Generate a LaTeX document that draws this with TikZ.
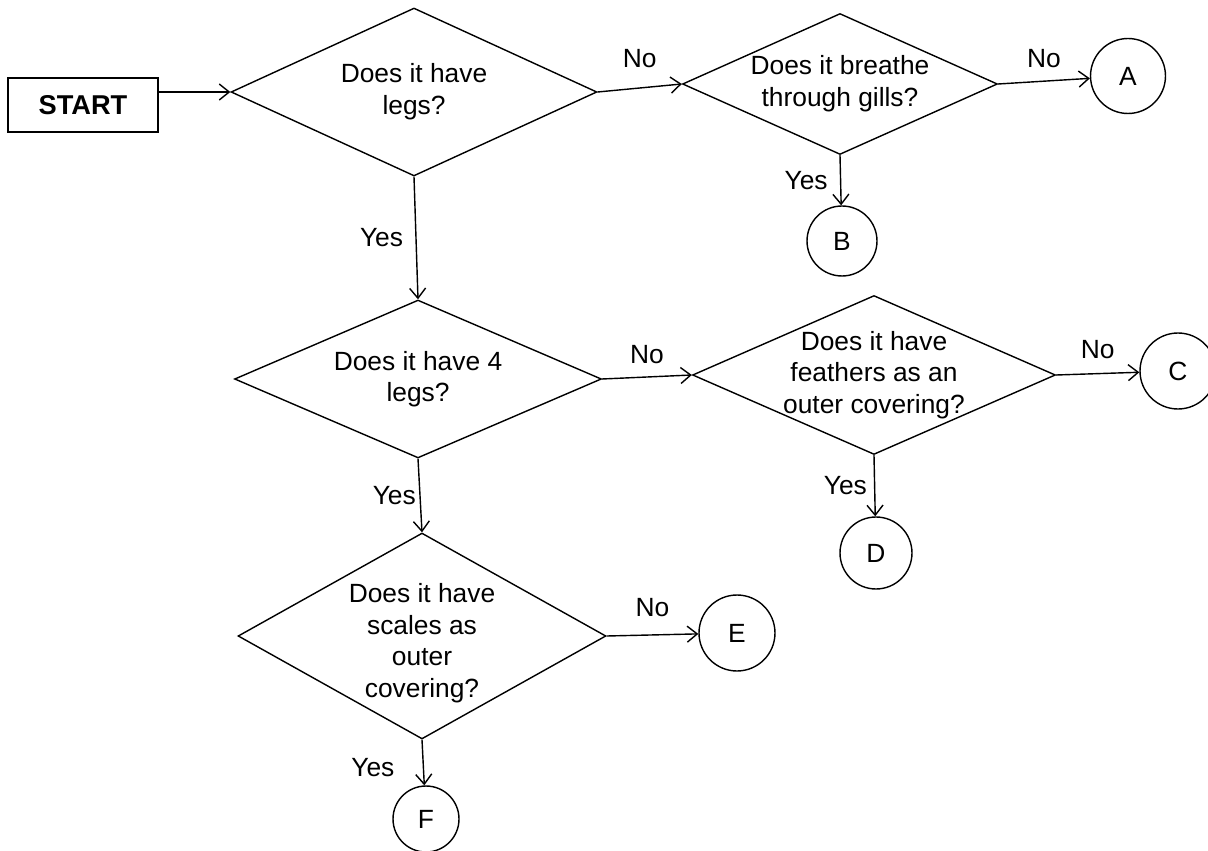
\documentclass[tikz,border=0pt]{standalone}
\usepackage{fontspec}
\setmainfont{Liberation Sans}
\usetikzlibrary{arrows.meta,shapes.geometric,positioning}

\begin{document}
\begin{tikzpicture}[x=0.02cm,y=-0.02cm,
q/.style={draw,diamond,inner sep=0pt,line width=0.8pt},
qtext/.style={align=center,inner sep=0pt,font=\fontsize{15}{18}\selectfont},
ans/.style={draw,circle,line width=0.8pt,minimum size=1.44cm,inner sep=0pt,font=\fontsize{15}{18}\selectfont},
startbox/.style={draw,line width=0.8pt,minimum width=3cm,minimum height=1.08cm,font=\fontsize{15.5}{18}\selectfont\bfseries},
lbl/.style={inner sep=2pt,font=\fontsize{15}{18}\selectfont},
arr/.style={-{Straight Barb[length=2mm,width=3.2mm]},line width=0.8pt}
]
\useasboundingbox (0,0) rectangle (1208,851);

\node[startbox] (start) at (83,105) {START};

\node[q,minimum width=7.32cm,minimum height=3.36cm] (legs) at (414,92) {};
\node[qtext] (legst) at (legs) {Does it have\\legs?};
\node[q,minimum width=6.3cm,minimum height=2.82cm] (gills) at (840,84) {};
\node[qtext] (gillst) at (gills) {Does it breathe\\through gills?};
\node[q,minimum width=7.34cm,minimum height=3.16cm] (four) at (418,379) {};
\node[qtext] (fourt) at (four) {Does it have 4\\legs?};
\node[q,minimum width=7.26cm,minimum height=3.18cm] (feathers) at (874,375) {};
\node[qtext] (featherst) at (feathers) {Does it have\\feathers as an\\outer covering?};
\node[q,minimum width=7.36cm,minimum height=4.12cm] (scales) at (422,636) {};
\node[qtext] (scalest) at ([yshift=-4pt]scales) {Does it have\\scales as\\outer\\covering?};

\node[ans,minimum size=1.5cm] (a) at (1128,76) {A};
\node[ans,minimum size=1.4cm] (b) at (842,241) {B};
\node[ans,minimum size=1.52cm] (c) at (1178,371) {C};
\node[ans] (d) at (876,553) {D};
\node[ans,minimum size=1.52cm] (e) at (737,633) {E};
\node[ans,minimum size=1.32cm] (f) at (426,819) {F};

\draw[arr] (start.east |- legs.west) -- (legs.west);
\draw[arr] (legs.east) -- node[lbl,above=9pt] {No} (gills.west);
\draw[arr] (gills.east) -- node[lbl,above=5pt] {No} (a);
\draw[arr] (gills.south) -- node[lbl,left=5pt] {Yes} (b);
\draw[arr] (legs.south) -- node[lbl,left=5pt] {Yes} (four.north);
\draw[arr] (four.east) -- node[lbl,above=5pt] {No} (feathers.west);
\draw[arr] (feathers.east) -- node[lbl,above=6pt] {No} (c);
\draw[arr] (feathers.south) -- node[lbl,left=2pt] {Yes} (d);
\draw[arr] (four.south) -- node[lbl,left=0pt] {Yes} (scales.north);
\draw[arr] (scales.east) -- node[lbl,above=8pt] {No} (e);
\draw[arr] (scales.south) -- node[lbl,left=14pt,yshift=-3pt] {Yes} (f);
\end{tikzpicture}
\end{document}
